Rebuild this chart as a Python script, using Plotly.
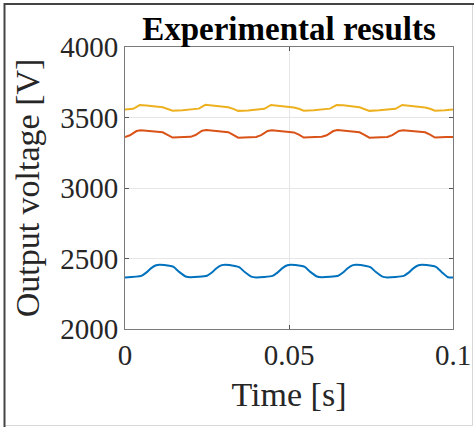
import plotly.graph_objects as go

# ---- data ----
t_yellow = [0.000, 0.0025, 0.0045, 0.0065, 0.0115, 0.0130, 0.0145, 0.0175,
            0.020, 0.0225, 0.0245, 0.0265, 0.0315, 0.0330, 0.0345, 0.0375,
            0.040, 0.0425, 0.0445, 0.0465, 0.0515, 0.0530, 0.0545, 0.0575,
            0.060, 0.0625, 0.0645, 0.0665, 0.0715, 0.0730, 0.0745, 0.0775,
            0.080, 0.0825, 0.0845, 0.0865, 0.0915, 0.0930, 0.0945, 0.0975,
            0.100]
v_yellow = [3557, 3562, 3588, 3585, 3572, 3562, 3548, 3551,
            3557, 3563, 3590, 3586, 3573, 3561, 3547, 3550,
            3556, 3562, 3589, 3585, 3571, 3562, 3548, 3551,
            3557, 3563, 3588, 3586, 3572, 3561, 3547, 3551,
            3557, 3562, 3589, 3585, 3571, 3562, 3548, 3551,
            3557]

t_orange = [0.000, 0.0015, 0.0035, 0.0048, 0.0115, 0.0130, 0.0145, 0.0180,
            0.020, 0.0215, 0.0235, 0.0248, 0.0315, 0.0330, 0.0345, 0.0380,
            0.040, 0.0415, 0.0435, 0.0448, 0.0515, 0.0530, 0.0545, 0.0580,
            0.060, 0.0615, 0.0635, 0.0648, 0.0715, 0.0730, 0.0745, 0.0780,
            0.080, 0.0815, 0.0835, 0.0848, 0.0915, 0.0930, 0.0945, 0.0980,
            0.100]
v_orange = [3362, 3374, 3404, 3410, 3395, 3378, 3358, 3361,
            3363, 3376, 3406, 3411, 3396, 3377, 3357, 3360,
            3362, 3375, 3405, 3410, 3394, 3378, 3358, 3361,
            3363, 3374, 3404, 3411, 3395, 3377, 3357, 3360,
            3362, 3375, 3405, 3410, 3395, 3378, 3358, 3361,
            3362]

t_blue = [0.000, 0.0050, 0.0065, 0.0080, 0.0095, 0.0105, 0.0135, 0.0148, 0.0165, 0.0185,
          0.020, 0.0250, 0.0265, 0.0280, 0.0295, 0.0305, 0.0335, 0.0348, 0.0365, 0.0385,
          0.040, 0.0450, 0.0465, 0.0480, 0.0495, 0.0505, 0.0535, 0.0548, 0.0565, 0.0585,
          0.060, 0.0650, 0.0665, 0.0680, 0.0695, 0.0705, 0.0735, 0.0748, 0.0765, 0.0785,
          0.080, 0.0850, 0.0865, 0.0880, 0.0895, 0.0905, 0.0935, 0.0948, 0.0965, 0.0985,
          0.100]
v_blue = [2366, 2377, 2400, 2432, 2452, 2455, 2448, 2440, 2405, 2372,
          2367, 2378, 2401, 2433, 2453, 2456, 2447, 2439, 2404, 2371,
          2366, 2377, 2400, 2432, 2452, 2455, 2448, 2440, 2405, 2372,
          2367, 2378, 2401, 2433, 2453, 2455, 2447, 2439, 2404, 2371,
          2366, 2377, 2400, 2432, 2452, 2455, 2448, 2440, 2405, 2367,
          2365]

x_ticks = [0, 0.05, 0.1]
x_tick_labels = ["0", "0.05", "0.1"]
y_ticks = [2000, 2500, 3000, 3500, 4000]
y_tick_labels = ["2000", "2500", "3000", "3500", "4000"]

FONT = "Times New Roman, Liberation Serif, Tinos, serif"
TXT = "#262626"

fig = go.Figure()
fig.add_trace(go.Scatter(x=t_yellow, y=v_yellow, mode="lines",
                         line=dict(color="#EDB120", width=2), showlegend=False))
fig.add_trace(go.Scatter(x=t_orange, y=v_orange, mode="lines",
                         line=dict(color="#D95319", width=2), showlegend=False))
fig.add_trace(go.Scatter(x=t_blue, y=v_blue, mode="lines",
                         line=dict(color="#0072BD", width=2, shape="spline", smoothing=0.6),
                         showlegend=False))

axis_common = dict(
    showline=True, linecolor="#7a7a7a", linewidth=1, mirror="ticks",
    ticks="inside", ticklen=4, tickcolor="#555555",
    showgrid=True, gridcolor="#e6e6e6", gridwidth=1, zeroline=False,
    tickfont=dict(family=FONT, size=29, color=TXT), automargin=False,
)

fig.update_xaxes(range=[0, 0.1], tickvals=x_ticks, ticktext=x_tick_labels,
                 title=dict(text="Time [s]", font=dict(family=FONT, size=34, color=TXT), standoff=12),
                 **axis_common)
fig.update_yaxes(range=[2000, 4000], tickvals=y_ticks, ticktext=y_tick_labels,
                 title=dict(text="Output voltage [V]", font=dict(family=FONT, size=34, color=TXT), standoff=10),
                 **axis_common)

# outer frame of the picture
def px2x(p):
    return (p - 125) / 328.0

def px2y(p):
    return (329 - p) / 282.0

# light right/bottom edges
fig.add_shape(type="rect", xref="paper", yref="paper",
              x0=px2x(4.5), y0=px2y(425.5), x1=px2x(472.5), y1=px2y(4),
              line=dict(color="#d8d8d8", width=1), layer="below")
# dark top/left edges
fig.add_shape(type="path", xref="paper", yref="paper",
              path=f"M {px2x(4.5)},{px2y(427)} L {px2x(4.5)},{px2y(4)} L {px2x(474)},{px2y(4)}",
              line=dict(color="#444444", width=2), layer="above")

fig.update_layout(
    width=474, height=427,
    margin=dict(l=125, r=21, t=47, b=98, autoexpand=False),
    paper_bgcolor="white", plot_bgcolor="white",
    title=dict(text="<b>Experimental results</b>", x=(289 / 474), xanchor="center",
               y=1 - 28 / 427, yanchor="middle", yref="container",
               font=dict(family=FONT, size=33, color="black")),
)

fig.write_html("out.html", config={"displayModeBar": False},
               post_script="document.body.style.margin='0';document.body.style.padding='0';document.body.style.overflow='hidden';")
